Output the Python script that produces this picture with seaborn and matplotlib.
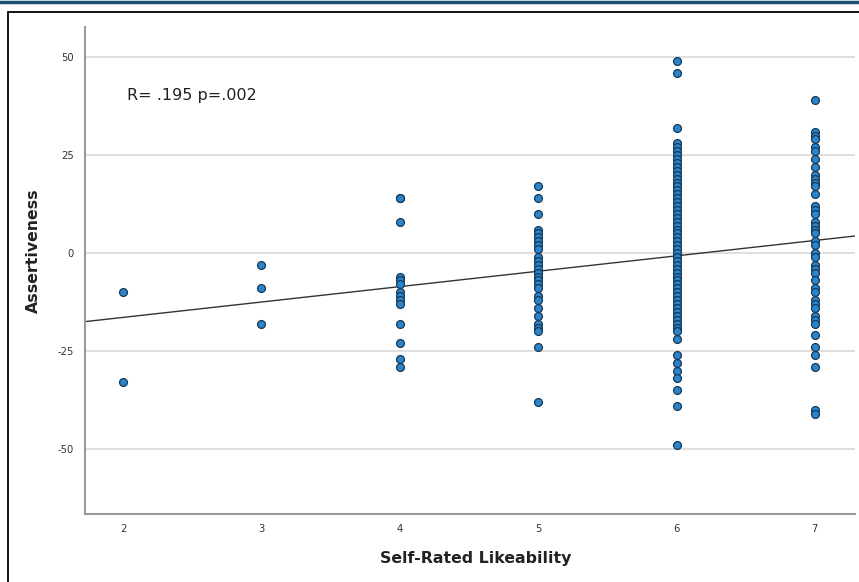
import numpy as np
import pandas as pd
import matplotlib
matplotlib.use("Agg")
import matplotlib.pyplot as plt
import seaborn as sns
from matplotlib.patches import Rectangle
from matplotlib.lines import Line2D

# ---- data ----
y_lik2 = [-10, -33]
y_lik3 = [-3, -9, -18]
y_lik4 = [14, 14, 8, -6, -7, -8, -10, -11, -12, -13, -18, -23, -27, -29]
y_lik5 = [17, 14, 10, 6, 5, 4, 3, 2, 1, -1, -2, -3, -4, -5, -6, -7, -8, -9,
          -11, -12, -14, -16, -18, -19, -20, -24, -38]
y_lik6 = [49, 46, 32, 28, 27, 26, 25, 24, 23, 22, 21, 20, 19, 18, 17, 16, 15,
          14, 13, 12, 11, 10, 9, 8, 7, 6, 5, 4, 3, 2, 1, 0, -1, -2, -3, -4,
          -5, -6, -7, -8, -9, -10, -11, -12, -13, -14, -15, -16, -17, -18,
          -19, -20, -22, -26, -28, -30, -32, -35, -39, -49]
y_lik7 = [39, 31, 30, 29, 27, 26, 24, 22, 20, 19, 18, 17, 15, 12, 11, 10, 8,
          7, 6, 5, 3, 2, 0, -1, -3, -4, -5, -7, -9, -10, -12, -13, -14, -16,
          -17, -18, -21, -24, -26, -29, -40, -41]
groups = {2: y_lik2, 3: y_lik3, 4: y_lik4, 5: y_lik5, 6: y_lik6, 7: y_lik7}
x_ticks = [2, 3, 4, 5, 6, 7]
y_ticks = [-50, -25, 0, 25, 50]
annotation = "R= .195 p=.002"

df = pd.DataFrame([(k, v) for k, vals in groups.items() for v in vals],
                  columns=["Self-Rated Likeability", "Assertiveness"])

sns.set_style("white")
plt.rcParams["font.family"] = ["DejaVu Sans"]
plt.rcParams["axes.unicode_minus"] = False

fig = plt.figure(figsize=(8.59, 5.82), dpi=100)
ax = fig.add_axes([85/859, 1-514/582, (855-85)/859, (514-27)/582])
ax.set_xlim(1.725, 7.29)
ax.set_ylim(-66.6, 57.7)

for yt in y_ticks:
    ax.axhline(yt, color="#d9d9d9", lw=1.2, zorder=0)

sns.regplot(data=df, x="Self-Rated Likeability", y="Assertiveness", ax=ax,
            ci=None, truncate=False,
            scatter_kws=dict(s=32, color="#2d84c8", edgecolor="#12395a",
                             linewidths=0.9, alpha=1, zorder=3),
            line_kws=dict(color="#333333", lw=1.0, zorder=2))

ax.set_xlim(1.725, 7.29)
ax.set_ylim(-66.6, 57.7)
ax.set_xticks(x_ticks)
ax.set_yticks(y_ticks)
ax.tick_params(axis="both", length=0, labelsize=8, colors="#333333")
ax.tick_params(axis="x", pad=7)
ax.tick_params(axis="y", pad=8)
for lab in ax.get_xticklabels() + ax.get_yticklabels():
    lab.set_fontstretch("condensed")
ax.set_xlabel("Self-Rated Likeability", fontsize=11.3, fontweight="bold",
              color="#222222")
ax.set_ylabel("Assertiveness", fontsize=11.3, fontweight="bold",
              color="#222222")
ax.xaxis.set_label_coords(0.508, -0.076)
ax.yaxis.set_label_coords(-0.057, 0.54)
for s in ["top", "right"]:
    ax.spines[s].set_visible(False)
for s in ["left", "bottom"]:
    ax.spines[s].set_color("#999999")
    ax.spines[s].set_linewidth(1.5)

ax.text(0.055, 0.859, annotation, transform=ax.transAxes, fontsize=11.5,
        color="#222222", va="center", ha="left")

# outer frame and top bar
fig.patches.append(Rectangle((8/859, -0.05), 1.1, 1-12/582+0.05,
                             transform=fig.transFigure, fill=False,
                             edgecolor="black", lw=1.3))
fig.lines.append(Line2D([0, 1], [1-1.5/582, 1-1.5/582],
                        transform=fig.transFigure, color="#1b4f72", lw=2.5))

fig.savefig("out.png", dpi=100)
